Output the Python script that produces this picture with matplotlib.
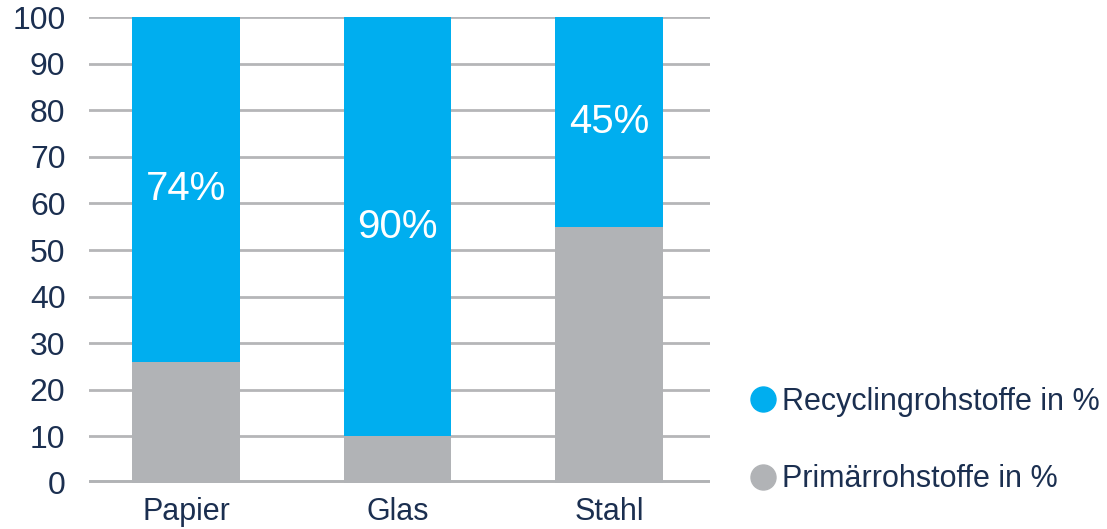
import matplotlib
matplotlib.use("Agg")
import matplotlib.pyplot as plt
from matplotlib.lines import Line2D

plt.rcParams["font.family"] = ["Liberation Sans", "DejaVu Sans"]

categories = ["Papier", "Glas", "Stahl"]
primaer = [26, 10, 55]
recycling = [74, 90, 45]
pct_labels = ["74%", "90%", "45%"]

BLUE = "#00aeef"
GREY = "#b1b3b6"
TEXT = "#1b2f50"

fig = plt.figure(figsize=(11.07, 5.29), dpi=100)
ax = fig.add_axes([89 / 1107, 46 / 529, (710 - 89) / 1107, (483 - 17) / 529])

x = list(range(len(categories)))
width = 0.51
ax.bar(x, primaer, width, color=GREY, zorder=2)
ax.bar(x, recycling, width, bottom=primaer, color=BLUE, zorder=2)

# percentage labels sit in the middle of the blue segment
for xi, p, r, lbl in zip(x, primaer, recycling, pct_labels):
    ax.text(xi, p + r / 2, lbl, color="white", ha="center", va="center",
            fontsize=29, zorder=3)

ax.set_xlim(-0.459, 2.478)
ax.set_ylim(0, 100)
ax.set_yticks(range(0, 101, 10))
ax.set_xticks(x)
ax.set_xticklabels(categories)
ax.tick_params(axis="both", length=0, labelsize=22, colors=TEXT)
ax.tick_params(axis="y", labelsize=23, pad=17)
ax.tick_params(axis="x", pad=10)

ax.grid(axis="y", color="#b5b6b8", linewidth=2, zorder=0)
for s in ax.spines.values():
    s.set_visible(False)
ax.axhline(0, color="#b1b3b6", linewidth=5, zorder=1)

handles = [
    Line2D([], [], marker="o", linestyle="", markersize=18, color=BLUE),
    Line2D([], [], marker="o", linestyle="", markersize=18, color=GREY),
]
leg = ax.legend(handles, ["Recyclingrohstoffe in %", "Primärrohstoffe in %"],
                loc="upper left", bbox_to_anchor=(748 / 1107, 142 / 529),
                bbox_transform=fig.transFigure, frameon=False, fontsize=22,
                handletextpad=0.1, handlelength=1.0, labelspacing=1.55,
                borderaxespad=0, borderpad=0)
for t in leg.get_texts():
    t.set_color(TEXT)

fig.savefig("out.png", dpi=100)
